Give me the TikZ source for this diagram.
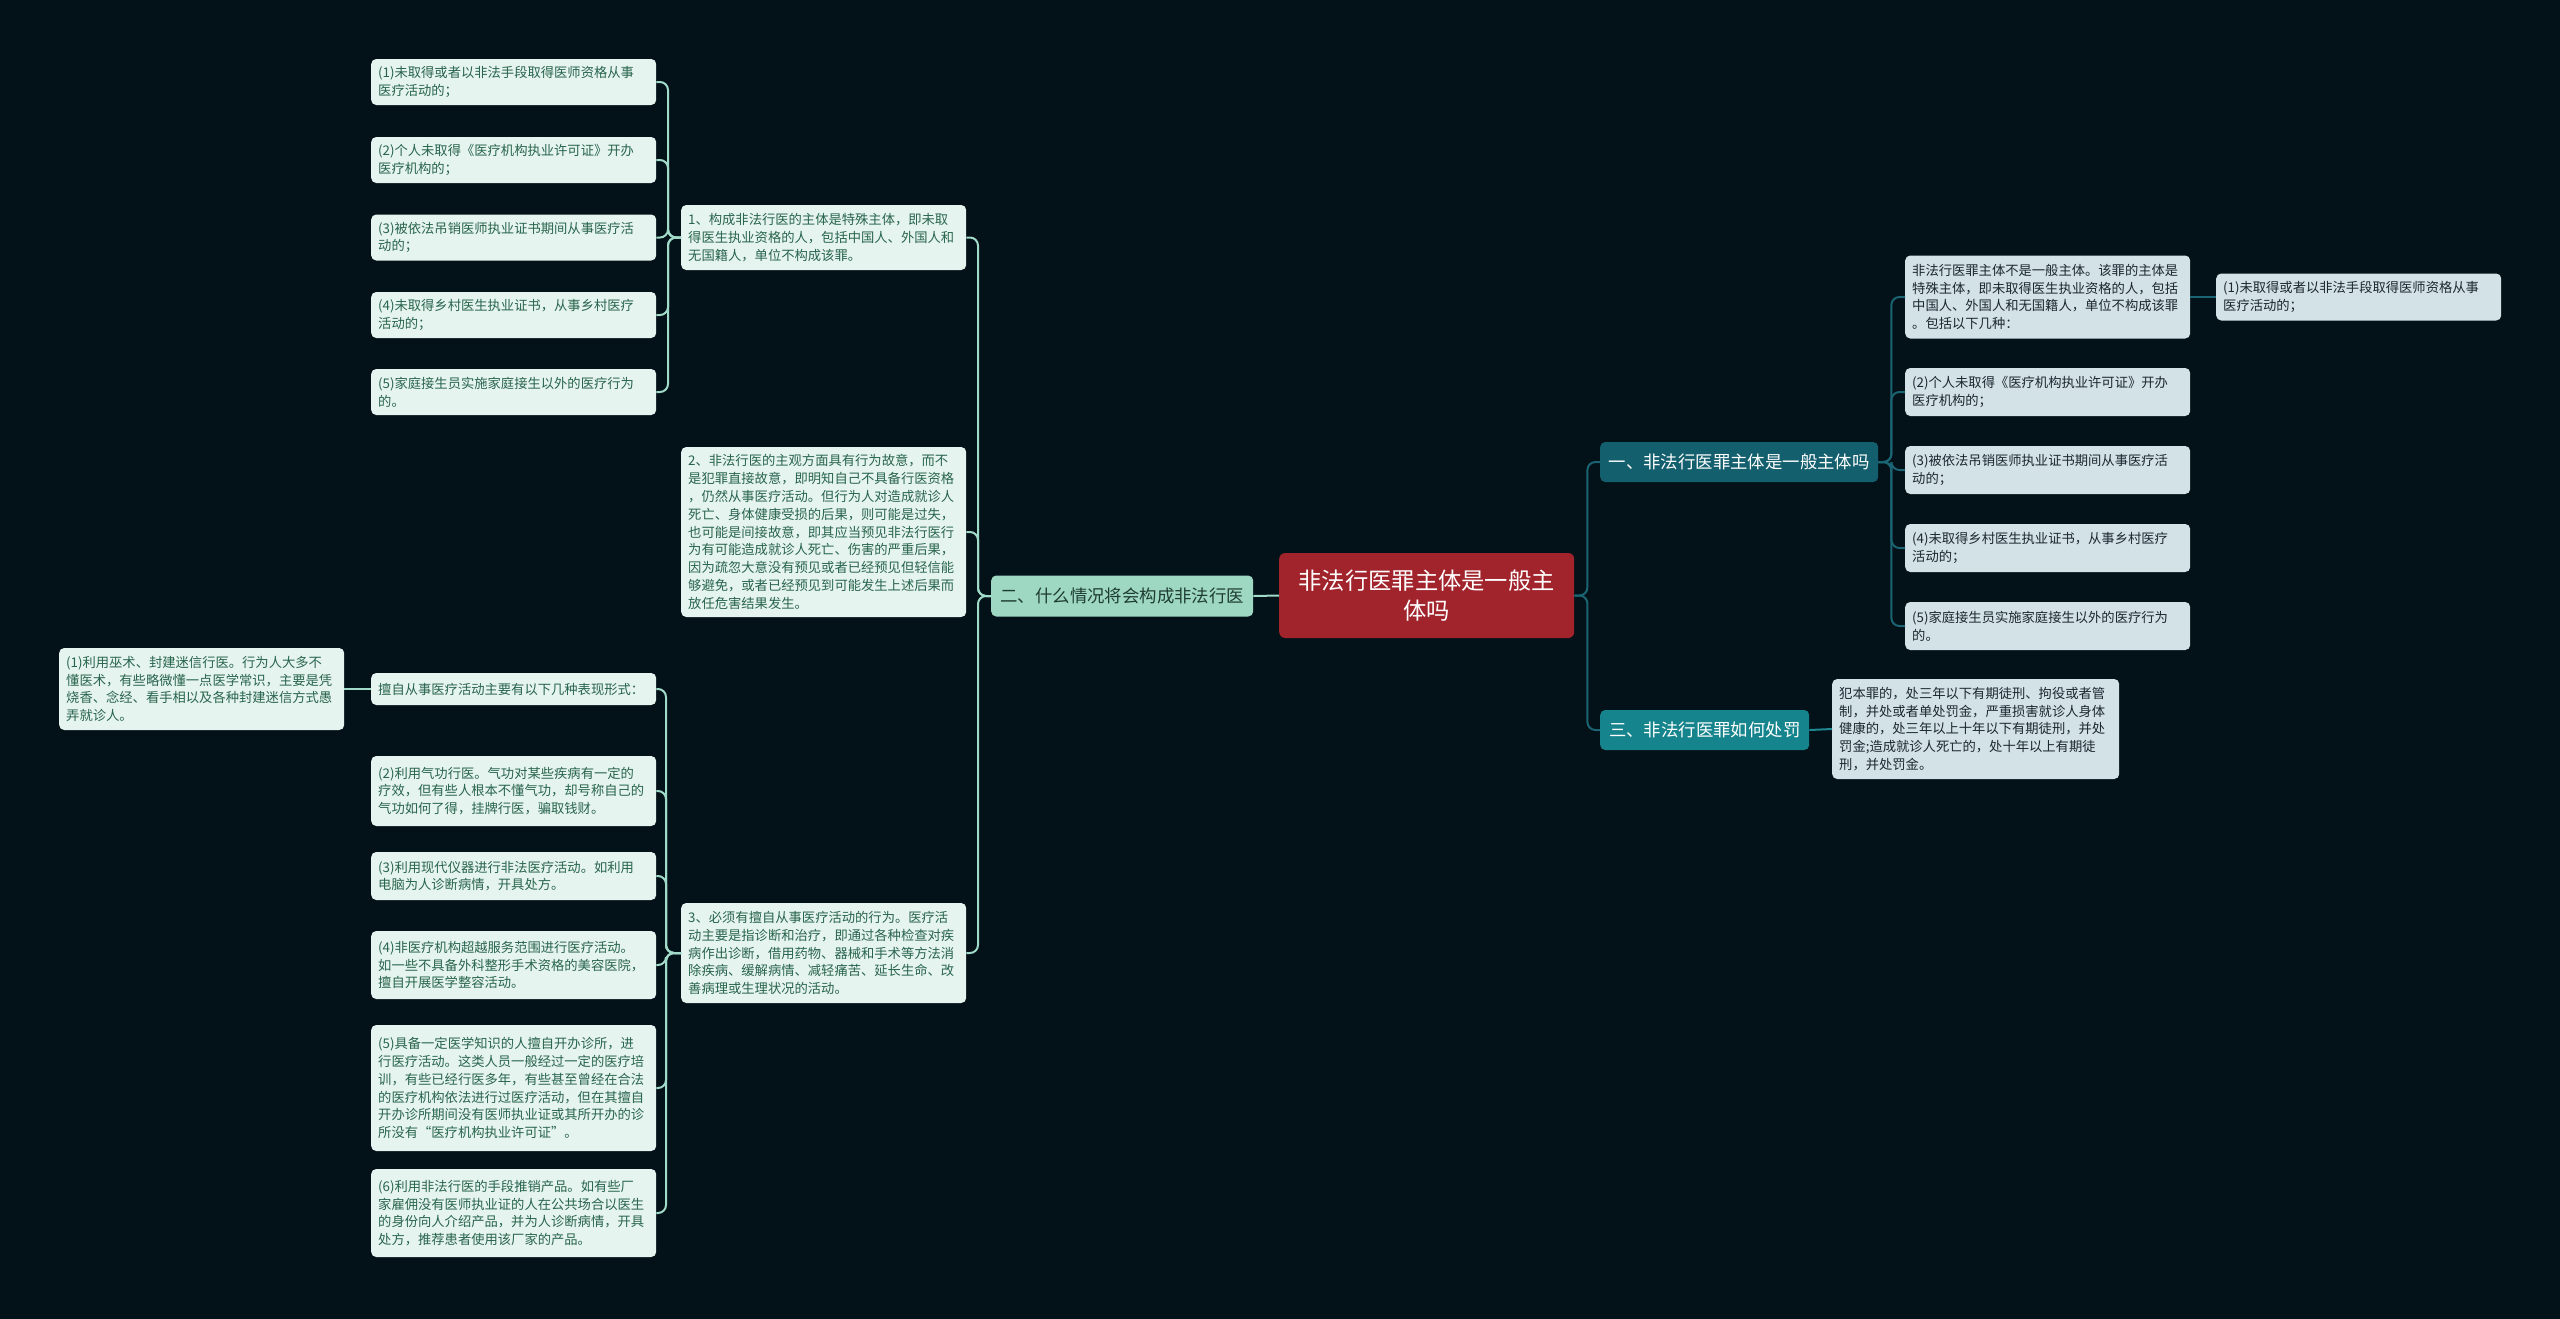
\documentclass[tikz,border=0pt]{standalone}
\usepackage{fontspec}
\setmainfont{Noto Sans CJK SC}
\definecolor{bg}{RGB}{3,17,25}
\definecolor{rootfill}{RGB}{161,35,43}
\definecolor{twofill}{RGB}{158,216,194}
\definecolor{twotext}{RGB}{30,60,52}
\definecolor{onefill}{RGB}{20,95,110}
\definecolor{threefill}{RGB}{22,132,140}
\definecolor{leafLfill}{RGB}{230,244,239}
\definecolor{leafLtext}{RGB}{40,100,78}
\definecolor{leafRfill}{RGB}{210,226,231}
\definecolor{leafRtext}{RGB}{28,40,48}
\definecolor{lineL}{RGB}{160,218,200}
\definecolor{lineR}{RGB}{26,100,115}
\definecolor{lineT}{RGB}{30,135,145}
\tikzset{
  leafL/.style={rounded corners=5pt, fill=leafLfill, text=leafLtext,
    font=\fontsize{13.3}{17.8}\selectfont, align=left, text width=271pt,
    inner xsep=7pt, inner ysep=2pt, anchor=west},
  leafR/.style={leafL, fill=leafRfill, text=leafRtext},
  branch/.style={rounded corners=5pt, font=\fontsize{17.4}{22}\selectfont,
    inner xsep=0pt, inner ysep=0pt, anchor=west, align=center},
  connL/.style={draw=lineL, line width=2pt, rounded corners=8pt},
  connR/.style={draw=lineR, line width=2pt, rounded corners=8pt},
  connT/.style={draw=lineT, line width=2pt},
}
\begin{document}
\begin{tikzpicture}[x=1pt,y=-1pt]
\useasboundingbox (0,0) rectangle (2560,1318);
\fill[bg] (-5,-5) rectangle (2565,1323);

% root
\node[rounded corners=6pt, fill=rootfill, text=white, font=\fontsize{23.3}{30}\selectfont,
  align=center, minimum width=295pt, minimum height=85pt, inner sep=0pt, anchor=west]
  (root) at (1279,595.5) {非法行医罪主体是一般主\\体吗};

% branches
\node[branch, fill=twofill, text=twotext, minimum width=262pt, minimum height=41pt]
  (b2) at (991,596) {二、什么情况将会构成非法行医};
\node[branch, fill=onefill, text=white, minimum width=278pt, minimum height=40pt]
  (b1) at (1600,462) {一、非法行医罪主体是一般主体吗};
\node[branch, fill=threefill, text=white, minimum width=209pt, minimum height=40pt]
  (b3) at (1600,730) {三、非法行医罪如何处罚};

% left level 2
\node[leafL, minimum height=65pt] (n1) at (681,237.5) {1、构成非法行医的主体是特殊主体，即未取\\得医生执业资格的人，包括中国人、外国人和\\无国籍人，单位不构成该罪。};
\node[leafL, minimum height=170pt] (n2) at (681,532) {2、非法行医的主观方面具有行为故意，而不\\是犯罪直接故意，即明知自己不具备行医资格\\，仍然从事医疗活动。但行为人对造成就诊人\\死亡、身体健康受损的后果，则可能是过失，\\也可能是间接故意，即其应当预见非法行医行\\为有可能造成就诊人死亡、伤害的严重后果，\\因为疏忽大意没有预见或者已经预见但轻信能\\够避免，或者已经预见到可能发生上述后果而\\放任危害结果发生。};
\node[leafL, minimum height=100pt] (n3) at (681,953) {3、必须有擅自从事医疗活动的行为。医疗活\\动主要是指诊断和治疗，即通过各种检查对疾\\病作出诊断，借用药物、器械和手术等方法消\\除疾病、缓解病情、减轻痛苦、延长生命、改\\善病理或生理状况的活动。};

% children of n1
\node[leafL, minimum height=46pt] (a1) at (371,82) {(1)未取得或者以非法手段取得医师资格从事\\医疗活动的；};
\node[leafL, minimum height=46pt] (a2) at (371,160) {(2)个人未取得《医疗机构执业许可证》开办\\医疗机构的；};
\node[leafL, minimum height=46pt] (a3) at (371,237.5) {(3)被依法吊销医师执业证书期间从事医疗活\\动的；};
\node[leafL, minimum height=46pt] (a4) at (371,315) {(4)未取得乡村医生执业证书，从事乡村医疗\\活动的；};
\node[leafL, minimum height=46pt] (a5) at (371,392) {(5)家庭接生员实施家庭接生以外的医疗行为\\的。};

% children of n3
\node[leafL, minimum height=32pt] (c0) at (371,689) {擅自从事医疗活动主要有以下几种表现形式：};
\node[leafL, minimum height=82pt] (c1) at (59,689) {(1)利用巫术、封建迷信行医。行为人大多不\\懂医术，有些略微懂一点医学常识，主要是凭\\烧香、念经、看手相以及各种封建迷信方式愚\\弄就诊人。};
\node[leafL, minimum height=70pt] (c2) at (371,791) {(2)利用气功行医。气功对某些疾病有一定的\\疗效，但有些人根本不懂气功，却号称自己的\\气功如何了得，挂牌行医，骗取钱财。};
\node[leafL, minimum height=48pt] (c3) at (371,876) {(3)利用现代仪器进行非法医疗活动。如利用\\电脑为人诊断病情，开具处方。};
\node[leafL, minimum height=68pt] (c4) at (371,965) {(4)非医疗机构超越服务范围进行医疗活动。\\如一些不具备外科整形手术资格的美容医院，\\擅自开展医学整容活动。};
\node[leafL, minimum height=126pt] (c5) at (371,1088) {(5)具备一定医学知识的人擅自开办诊所，进\\行医疗活动。这类人员一般经过一定的医疗培\\训，有些已经行医多年，有些甚至曾经在合法\\的医疗机构依法进行过医疗活动，但在其擅自\\开办诊所期间没有医师执业证或其所开办的诊\\所没有“医疗机构执业许可证”。};
\node[leafL, minimum height=88pt] (c6) at (371,1213) {(6)利用非法行医的手段推销产品。如有些厂\\家雇佣没有医师执业证的人在公共场合以医生\\的身份向人介绍产品，并为人诊断病情，开具\\处方，推荐患者使用该厂家的产品。};

% right side
\node[leafR, minimum height=83pt] (r1) at (1905,297) {非法行医罪主体不是一般主体。该罪的主体是\\特殊主体，即未取得医生执业资格的人，包括\\中国人、外国人和无国籍人，单位不构成该罪\\。包括以下几种：};
\node[leafR, minimum height=47pt] (r1a) at (2216,297) {(1)未取得或者以非法手段取得医师资格从事\\医疗活动的；};
\node[leafR, minimum height=48pt] (r2) at (1905,392) {(2)个人未取得《医疗机构执业许可证》开办\\医疗机构的；};
\node[leafR, minimum height=48pt] (r3) at (1905,470) {(3)被依法吊销医师执业证书期间从事医疗活\\动的；};
\node[leafR, minimum height=48pt] (r4) at (1905,548) {(4)未取得乡村医生执业证书，从事乡村医疗\\活动的；};
\node[leafR, minimum height=48pt] (r5) at (1905,626) {(5)家庭接生员实施家庭接生以外的医疗行为\\的。};
\node[leafR, minimum height=100pt, text width=273pt] (p1) at (1832,729) {犯本罪的，处三年以下有期徒刑、拘役或者管\\制，并处或者单处罚金，严重损害就诊人身体\\健康的，处三年以上十年以下有期徒刑，并处\\罚金;造成就诊人死亡的，处十年以上有期徒\\刑，并处罚金。};

% connectors: root
\draw[connL] (root.west) -- (b2.east);
\foreach \t in {b1,b3} \draw[connR] (root.east) -- ++(13,0) |- (\t.west);

% b2 -> n1..n3
\foreach \t in {n1,n2,n3} \draw[connL] (b2.west) -- ++(-13,0) |- (\t.east);
% n1 -> a1..a5
\foreach \t in {a1,a2,a3,a4,a5} \draw[connL] (n1.west) -- ++(-13,0) |- (\t.east);
% n3 -> c0,c2..c6
\foreach \t in {c0,c2,c3,c4,c5,c6} \draw[connL] (n3.west) -- ++(-15,0) |- (\t.east);
% c0 -> c1
\draw[connL] (c0.west) -- (c1.east);

% b1 -> r1..r5
\foreach \t in {r1,r2,r3,r4,r5} \draw[connR] (b1.east) -- ++(13,0) |- (\t.west);
\draw[connR] (r1.east) -- (r1a.west);
% b3 -> p1
\draw[connT] (b3.east) -- (p1.west);
\end{tikzpicture}
\end{document}
